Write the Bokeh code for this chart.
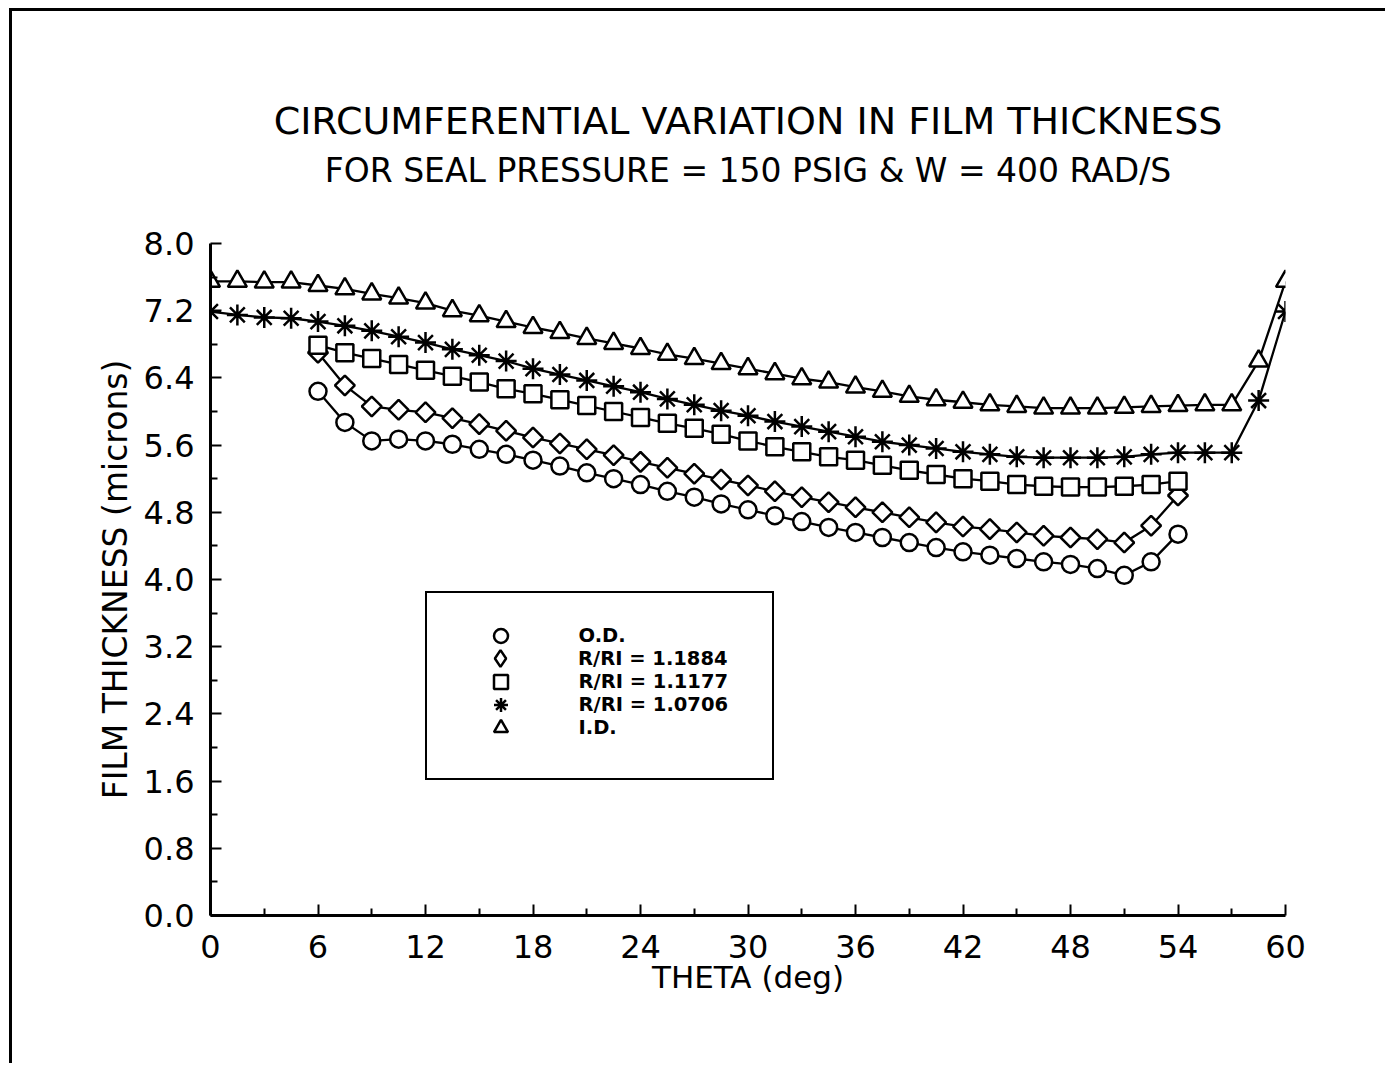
import math
from bokeh.plotting import figure
from bokeh.models import (FixedTicker, Range1d, Legend, LegendItem, Title,
                          PrintfTickFormatter)
from bokeh.embed import file_html
from bokeh.resources import INLINE

# ---------------- data ----------------
theta_full = [0, 1.5, 3, 4.5, 6, 7.5, 9, 10.5, 12, 13.5, 15, 16.5, 18, 19.5,
              21, 22.5, 24, 25.5, 27, 28.5, 30, 31.5, 33, 34.5, 36, 37.5, 39,
              40.5, 42, 43.5, 45, 46.5, 48, 49.5, 51, 52.5, 54, 55.5, 57,
              58.5, 60]
theta_part = [6, 7.5, 9, 10.5, 12, 13.5, 15, 16.5, 18, 19.5, 21, 22.5, 24,
              25.5, 27, 28.5, 30, 31.5, 33, 34.5, 36, 37.5, 39, 40.5, 42,
              43.5, 45, 46.5, 48, 49.5, 51, 52.5, 54]

h_od = [6.24, 5.87, 5.65, 5.67, 5.65, 5.61, 5.55, 5.49, 5.42, 5.35, 5.27,
        5.20, 5.13, 5.05, 4.98, 4.90, 4.83, 4.76, 4.69, 4.62, 4.56, 4.50,
        4.44, 4.38, 4.33, 4.29, 4.25, 4.21, 4.18, 4.13, 4.05, 4.21, 4.54]
h_11884 = [6.70, 6.31, 6.06, 6.02, 5.99, 5.92, 5.85, 5.77, 5.69, 5.62, 5.55,
           5.48, 5.40, 5.33, 5.26, 5.19, 5.12, 5.05, 4.98, 4.92, 4.86, 4.80,
           4.74, 4.68, 4.63, 4.60, 4.56, 4.52, 4.50, 4.48, 4.44, 4.64, 5.00]
h_11177 = [6.79, 6.70, 6.63, 6.56, 6.49, 6.42, 6.35, 6.27, 6.21, 6.14, 6.07,
           6.00, 5.93, 5.86, 5.80, 5.73, 5.65, 5.58, 5.52, 5.46, 5.42, 5.36,
           5.30, 5.25, 5.20, 5.17, 5.13, 5.11, 5.10, 5.10, 5.11, 5.13, 5.17]
h_10706 = [7.19, 7.15, 7.12, 7.11, 7.07, 7.02, 6.96, 6.89, 6.82, 6.74, 6.67,
           6.60, 6.51, 6.44, 6.37, 6.30, 6.23, 6.15, 6.08, 6.01, 5.95, 5.88,
           5.82, 5.76, 5.70, 5.64, 5.60, 5.56, 5.52, 5.49, 5.46, 5.45, 5.45,
           5.45, 5.46, 5.49, 5.51, 5.51, 5.51, 6.13, 7.19]
h_id = [7.55, 7.55, 7.54, 7.54, 7.50, 7.46, 7.40, 7.35, 7.29, 7.20, 7.14,
        7.07, 7.00, 6.94, 6.87, 6.81, 6.75, 6.68, 6.63, 6.57, 6.51, 6.45,
        6.39, 6.35, 6.29, 6.24, 6.18, 6.14, 6.11, 6.08, 6.06, 6.04, 6.04,
        6.04, 6.05, 6.06, 6.07, 6.08, 6.08, 6.60, 7.55]

labels = ["O.D.", "R/RI = 1.1884", "R/RI = 1.1177", "R/RI = 1.0706", "I.D."]
x_ticks = [0, 6, 12, 18, 24, 30, 36, 42, 48, 54, 60]
x_minor = [3, 9, 15, 21, 27, 33, 39, 45, 51, 57]
y_ticks = [0.0, 0.8, 1.6, 2.4, 3.2, 4.0, 4.8, 5.6, 6.4, 7.2, 8.0]
y_minor = [0.4, 1.2, 2.0, 2.8, 3.6, 4.4, 5.2, 6.0, 6.8, 7.6]

title1 = "CIRCUMFERENTIAL VARIATION IN FILM THICKNESS"
title2 = "FOR SEAL PRESSURE = 150 PSIG & W = 400 RAD/S"

FONT = "DejaVu Sans"

p = figure(width=1376, height=1055, output_backend="svg", toolbar_location=None,
           x_range=Range1d(0, 60), y_range=Range1d(0, 8),
           min_border_left=198, min_border_right=103,
           min_border_top=232, min_border_bottom=151,
           styles={"border-left": "3px solid black",
                   "border-top": "3px solid black",
                   "margin-left": "9px", "margin-top": "8px"})
p.title.visible = False
p.outline_line_color = None
p.xgrid.visible = False
p.ygrid.visible = False
p.background_fill_color = "white"
p.border_fill_color = "white"

for ax in (p.xaxis[0], p.yaxis[0]):
    ax.axis_line_width = 3
    ax.axis_line_color = "black"
    ax.major_tick_in = 11
    ax.major_tick_out = 0
    ax.minor_tick_in = 7
    ax.minor_tick_out = 0
    ax.major_tick_line_width = 2
    ax.minor_tick_line_width = 2
    ax.major_tick_line_color = "black"
    ax.minor_tick_line_color = "black"
    ax.major_label_text_font = FONT
    ax.major_label_text_font_size = "32px"
    ax.major_label_text_color = "black"
    ax.axis_label_text_font = FONT
    ax.axis_label_text_font_style = "normal"
    ax.axis_label_text_color = "black"

p.xaxis[0].axis_label_text_font_size = "31px"
p.yaxis[0].axis_label_text_font_size = "33px"
p.xaxis[0].ticker = FixedTicker(ticks=x_ticks, minor_ticks=x_minor)
p.yaxis[0].ticker = FixedTicker(ticks=y_ticks, minor_ticks=y_minor)
p.yaxis[0].formatter = PrintfTickFormatter(format="%.1f")
p.xaxis[0].major_label_standoff = 19
p.yaxis[0].major_label_standoff = 16
p.xaxis[0].axis_label = "THETA (deg)"
p.yaxis[0].axis_label = "FILM THICKNESS (microns)"
p.xaxis[0].axis_label_standoff = -2
p.yaxis[0].axis_label_standoff = 6

series = [
    (theta_part, h_od, "circle", 17, 0.0, "circle"),
    (theta_part, h_11884, "square", 14, math.pi / 4, "diamond"),
    (theta_part, h_11177, "square", 17, 0.0, "square"),
    (theta_full, h_10706, "asterisk", 21, 0.0, "asterisk"),
    (theta_full, h_id, "triangle", 19, 0.0, "triangle"),
]

# legend frame (box only)
box = Legend(items=[LegendItem(label="", renderers=[])], location=(215, 135),
             padding=0, glyph_width=345, glyph_height=185, label_width=0,
             label_height=0, label_standoff=0, spacing=0, margin=0,
             border_line_color="black", border_line_width=2,
             border_line_alpha=1, background_fill_color="white",
             background_fill_alpha=1)
p.add_layout(box, "center")

row_cy = [280, 257, 234, 211, 188]   # legend row centres, px above frame bottom
for (xs, ys, mk, sz, ang, lmk), lab, cy in zip(series, labels, row_cy):
    p.line(xs, ys, line_color="black", line_width=2.3)
    r = p.scatter(xs, ys, marker=mk, size=sz, angle=ang, fill_color="white",
                  line_color="black", line_width=2.5)
    if lmk != mk:
        # legend-only glyph (no visible point in the plot)
        r = p.scatter(x=[float("nan")], y=[float("nan")], marker=lmk, size=sz,
                      fill_color="white", line_color="black", line_width=2.5)
    gh = 42 if lmk == "diamond" else 35
    row = Legend(items=[LegendItem(label=lab, renderers=[r])],
                 location=(290 - gh / 2, cy - gh / 2),
                 padding=0, glyph_width=gh, glyph_height=gh,
                 label_standoff=int(78 - gh / 2 + 0.5), spacing=0, margin=0,
                 label_text_font=FONT, label_text_font_size="19.5px",
                 label_text_font_style="bold", label_text_color="black",
                 border_line_color=None, background_fill_alpha=0)
    p.add_layout(row, "center")

# titles: spacer (closest to frame), subtitle, main title
p.add_layout(Title(text=" ", text_font_size="10px", standoff=39), "above")
p.add_layout(Title(text=title2, align="center", text_font=FONT,
                   text_font_size="33px", text_font_style="normal",
                   text_color="black", standoff=4), "above")
p.add_layout(Title(text=title1, align="center", text_font=FONT,
                   text_font_size="38px", text_font_style="normal",
                   text_color="black", standoff=7), "above")

open("out.html", "w").write(file_html(p, INLINE))
